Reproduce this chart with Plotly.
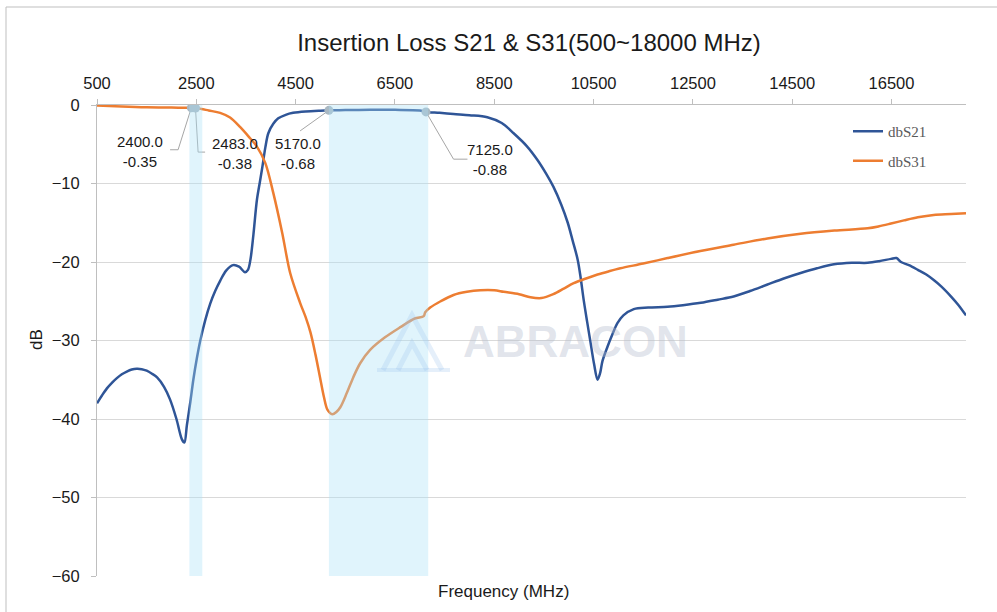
import plotly.graph_objects as go

# ---------------- data ----------------
freq_s21 = [500, 600, 700, 800, 900, 1000, 1100, 1200, 1300, 1400, 1500, 1600, 1710, 1850, 1970, 2100, 2210,
            2260, 2310, 2380, 2440, 2510, 2580, 2680, 2780, 2880, 2980, 3100, 3240, 3360, 3480, 3540, 3590,
            3650, 3720, 3780, 3830, 3890, 3950, 4050, 4150, 4300, 4450, 4700, 5000, 5170, 5500, 6000, 6500,
            7000, 7125, 7400, 7680, 8000, 8360, 8650, 8890, 9150, 9370, 9550, 9690, 9850, 9980, 10080, 10180,
            10240, 10300, 10370, 10440, 10510, 10580, 10630, 10680, 10780, 10880, 10980, 11100, 11310, 11600,
            11990, 12300, 12660, 13000, 13320, 13650, 13990, 14330, 14670, 15000, 15340, 15700, 16020,
            16250, 16490, 16600, 16690, 16850, 17030, 17200, 17350, 17500, 17700, 17850, 18000]
s21 = [-38.0, -37.0, -36.1, -35.4, -34.8, -34.3, -33.95, -33.7, -33.6, -33.65, -33.85, -34.2, -34.7, -35.9,
       -37.5, -40.0, -42.6, -43.0, -40.8, -37.8, -35.0, -32.3, -30.0, -27.4, -25.3, -23.7, -22.4, -21.1,
       -20.4, -20.6, -21.3, -21.0, -19.7, -16.5, -12.1, -9.8, -7.9, -5.4, -3.6, -2.4, -1.7, -1.25, -1.0,
       -0.82, -0.72, -0.68, -0.65, -0.62, -0.62, -0.7, -0.88, -1.0, -1.15, -1.3, -1.55, -2.3, -3.6, -5.2,
       -7.0, -8.8, -10.4, -12.7, -15.0, -17.3, -19.7, -22.0, -24.8, -27.6, -30.3, -33.0, -35.0, -34.2,
       -32.6, -30.8, -29.2, -27.8, -26.8, -26.0, -25.8, -25.7, -25.5, -25.2, -24.8, -24.4, -23.7, -22.9,
       -22.1, -21.4, -20.8, -20.3, -20.1, -20.1, -19.9, -19.6, -19.5, -20.0, -20.4, -21.0, -21.6, -22.3,
       -23.1, -24.4, -25.5, -26.8]

freq_s31 = [500, 1000, 1500, 2000, 2400, 2483, 2600, 2750, 2980, 3180, 3380, 3550, 3720, 3890, 4050,
            4230, 4390, 4590, 4700, 4800, 4900, 5000, 5070, 5140, 5240, 5320, 5400, 5530, 5660, 5800, 6000,
            6300, 6610, 6900, 7080, 7110, 7210, 7420, 7680, 7950, 8220, 8500, 8690, 9000, 9230, 9450, 9690,
            9900, 10100, 10350, 10580, 10800, 11040, 11500, 11990, 12650, 13320, 14000, 14670, 15350, 16020,
            16250, 16490, 16750, 17030, 17350, 17700, 18000]
s31 = [-0.05, -0.2, -0.3, -0.33, -0.35, -0.38, -0.5, -0.7, -1.0, -1.6, -2.8, -4.0, -5.3, -7.4, -11.2,
       -16.3, -21.4, -25.2, -27.0, -29.0, -31.8, -35.0, -37.2, -38.8, -39.4, -39.1, -38.5, -36.7, -34.7,
       -32.9, -31.2, -29.6, -28.3, -27.2, -26.9, -26.4, -25.8, -25.0, -24.2, -23.8, -23.6, -23.6, -23.8,
       -24.1, -24.5, -24.6, -24.1, -23.4, -22.7, -22.1, -21.6, -21.2, -20.8, -20.2, -19.5, -18.6, -17.8,
       -17.0, -16.4, -16.0, -15.7, -15.45, -15.1, -14.7, -14.3, -14.0, -13.9, -13.8]

mark_freq = [2400.0, 2483.0, 5170.0, 7125.0]
mark_db = [-0.35, -0.38, -0.68, -0.88]

band_lo = [2360, 5170]
band_hi = [2620, 7170]

x_ticks = [500, 2500, 4500, 6500, 8500, 10500, 12500, 14500, 16500]
y_ticks = [0, -10, -20, -30, -40, -50, -60]

# ---------------- geometry helpers (pixel -> paper) ----------------
L, R, T, B = 97, 31, 105, 36
W, H = 997, 612
PW, PH = W - L - R, H - T - B


def px(x):
    return (x - L) / PW


def py(y):
    return (H - B - y) / PH


BLUE = "#2F5597"
ORANGE = "#ED7D31"
GREY = "#A6A6A6"
FONT = "Liberation Sans, Arial"
TXT = "#1a1a1a"

fig = go.Figure()

fig.add_trace(go.Scatter(x=freq_s21, y=s21, mode="lines", name="dbS21", legendgroup="a",
                         line=dict(color=BLUE, width=2.5, shape="spline", smoothing=0.9)))
fig.add_trace(go.Scatter(x=freq_s31, y=s31, mode="lines", name="dbS31", legendgroup="b",
                         line=dict(color=ORANGE, width=2.5, shape="spline", smoothing=0.9)))

# leader lines (elbow) from markers to labels
leaders = [
    ([mark_freq[0], 2133, 1972], [mark_db[0], -5.7, -5.7]),
    ([mark_freq[1], 2536, 2677], [mark_db[1], -6.0, -6.0]),
    ([mark_freq[2], 4590], [mark_db[2], -3.3]),
    ([mark_freq[3], 7680, 7960], [mark_db[3], -6.9, -6.9]),
]
for lx, ly in leaders:
    fig.add_trace(go.Scatter(x=lx, y=ly, mode="lines", line=dict(color=GREY, width=1),
                             showlegend=False, hoverinfo="skip"))

fig.add_trace(go.Scatter(x=mark_freq, y=mark_db, mode="markers", showlegend=False,
                         marker=dict(color="#A9B8C2", size=9)))

label_pos = [(1370, -5.9), (3282, -6.2), (4553, -6.2), (8423, -7.0)]
for (f, d), (ax_, ay_) in zip(zip(mark_freq, mark_db), label_pos):
    fig.add_annotation(x=ax_, y=ay_, xref="x", yref="y", showarrow=False,
                       xanchor="center", yanchor="middle",
                       text=f"{f:.1f}<br>{d:.2f}", align="center",
                       font=dict(family=FONT, size=15, color=TXT))

shapes = []
for lo, hi in zip(band_lo, band_hi):
    shapes.append(dict(type="rect", xref="x", yref="y", x0=lo, x1=hi, y0=-60, y1=0,
                       fillcolor="rgba(170,225,248,0.36)", line=dict(width=0), layer="above"))

# watermark logo
logo_col = "rgba(150,190,235,0.25)"
shapes.append(dict(type="path", xref="paper", yref="paper",
                   path=f"M {px(383)} {py(370)} L {px(412)} {py(315)} L {px(442)} {py(370)}",
                   line=dict(color=logo_col, width=5), layer="above"))
shapes.append(dict(type="path", xref="paper", yref="paper",
                   path=f"M {px(398)} {py(370)} L {px(412)} {py(343)} L {px(427)} {py(370)}",
                   line=dict(color=logo_col, width=5), layer="above"))
shapes.append(dict(type="line", xref="paper", yref="paper",
                   x0=px(377), x1=px(450), y0=py(370), y1=py(370),
                   line=dict(color=logo_col, width=4), layer="above"))

# chart border
shapes.append(dict(type="rect", xref="paper", yref="paper",
                   x0=px(6), x1=px(1010), y0=py(625), y1=py(7),
                   line=dict(color="#BFBFBF", width=1), fillcolor="rgba(0,0,0,0)", layer="below"))

fig.add_annotation(x=px(575), y=py(341), xref="paper", yref="paper", showarrow=False,
                   xanchor="center", yanchor="middle", text="<b>ABRACON</b>",
                   font=dict(family=FONT, size=44, color="rgba(180,188,205,0.4)"))

fig.add_annotation(x=px(36), y=py(340), xref="paper", yref="paper", showarrow=False,
                   xanchor="center", yanchor="middle", text="dB", textangle=-90,
                   font=dict(family=FONT, size=17, color=TXT))
fig.add_annotation(x=px(503), y=py(591), xref="paper", yref="paper", showarrow=False,
                   xanchor="center", yanchor="middle", text="Frequency (MHz)",
                   font=dict(family=FONT, size=17, color=TXT))

fig.update_layout(
    width=W, height=H,
    margin=dict(l=L, r=R, t=T, b=B),
    paper_bgcolor="white", plot_bgcolor="white",
    font=dict(family=FONT, size=16, color=TXT),
    title=dict(text="Insertion Loss S21 & S31(500~18000 MHz)", x=529 / W, xref="container",
               xanchor="center", y=1 - 43 / H, yref="container", yanchor="middle",
               font=dict(size=24, color=TXT)),
    shapes=shapes,
    showlegend=True,
    legend=dict(x=px(848), y=py(115), xanchor="left", yanchor="top", bgcolor="rgba(0,0,0,0)",
                font=dict(family="Liberation Serif, Times New Roman", size=15, color="#595959"),
                tracegroupgap=7),
    hovermode=False,
)
fig.update_xaxes(side="top", range=[500, 18000], tickvals=x_ticks, ticktext=[str(v) for v in x_ticks],
                 showgrid=False, zeroline=False, showline=True, linecolor="#BFBFBF", linewidth=1,
                 ticks="outside", ticklen=5, tickcolor="#BFBFBF", tickfont=dict(size=16.5),
                 ticklabelstandoff=3)
fig.update_yaxes(range=[-60, 0], tickvals=y_ticks, showgrid=True, gridcolor="#D9D9D9", gridwidth=1,
                 zeroline=False, showline=True, linecolor="#BFBFBF", linewidth=1,
                 ticks="outside", ticklen=5, tickcolor="#BFBFBF", tickfont=dict(size=16.5),
                 ticklabelstandoff=8)

fig.write_html("out.html", config={"displayModeBar": False},
               post_script="document.body.style.margin='0px';")
